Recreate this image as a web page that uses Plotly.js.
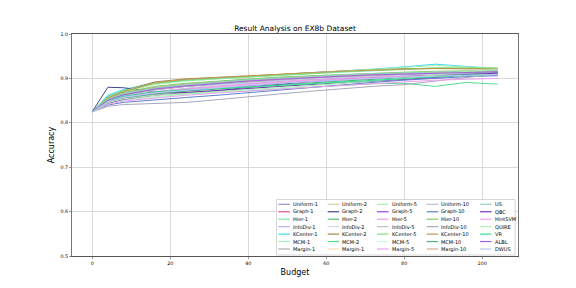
<!DOCTYPE html>
<html><head><meta charset="utf-8">
<script src="https://cdn.plot.ly/plotly-3.0.1.min.js"></script>
<style>html,body{margin:0;padding:0;background:#fff;}#chart{width:576px;height:288px;}</style>
</head><body><div id="chart"></div>
<script>
const budget = [0,4,8,16,24,32,40,48,56,64,72,80,88,96,104];
const seriesNames = ["Uniform-1","Graph-1","Hier-1","InfoDiv-1","KCenter-1","MCM-1","Margin-1",
  "Uniform-2","Graph-2","Hier-2","InfoDiv-2","KCenter-2","MCM-2","Margin-1",
  "Uniform-5","Graph-5","Hier-5","InfoDiv-5","KCenter-5","MCM-5","Margin-5",
  "Uniform-10","Graph-10","Hier-10","InfoDiv-10","KCenter-10","MCM-10","Margin-10",
  "US","QBC","HintSVM","QUIRE","VR","ALBL","DWUS"];
const seriesColors = ["#9b8fc8","#f0507a","#7ee8a8","#c0a8f0","#40d8f0","#a0f0c0","#a8b0a8",
  "#d8d0a0","#404890","#60c080","#c8d8e8","#a08850","#50e090","#f8e0b0",
  "#a8f0b0","#a040f0","#f0a0e0","#b0c8b8","#80e080","#d0f8e0","#e8a0e8",
  "#c0b8d8","#6080d0","#80d060","#a8a8c0","#c09850","#50b080","#d0b090",
  "#90d0c8","#8030c0","#f0a0f0","#b0f0b0","#30e090","#a060e0","#b8c8f8"];
const uniform1  = [0.825,0.852,0.866,0.878,0.885,0.891,0.896,0.900,0.903,0.906,0.909,0.911,0.913,0.914,0.915];
const graph1    = [0.825,0.850,0.862,0.874,0.882,0.888,0.893,0.897,0.900,0.903,0.905,0.908,0.910,0.909,0.912];
const hier1     = [0.825,0.860,0.872,0.888,0.895,0.899,0.903,0.907,0.911,0.914,0.917,0.920,0.923,0.922,0.921];
const infoDiv1  = [0.825,0.845,0.855,0.868,0.876,0.882,0.888,0.893,0.897,0.900,0.903,0.906,0.909,0.911,0.913];
const kCenter1  = [0.825,0.862,0.875,0.890,0.896,0.900,0.905,0.909,0.913,0.917,0.921,0.926,0.932,0.927,0.922];
const mcm1      = [0.825,0.848,0.858,0.864,0.868,0.872,0.876,0.882,0.888,0.894,0.900,0.905,0.910,0.913,0.914];
const margin1   = [0.825,0.855,0.868,0.880,0.887,0.893,0.898,0.902,0.905,0.907,0.909,0.911,0.912,0.913,0.914];
const uniform2  = [0.825,0.853,0.865,0.877,0.885,0.892,0.897,0.901,0.905,0.908,0.910,0.912,0.914,0.916,0.917];
const graph2    = [0.825,0.880,0.879,0.870,0.868,0.872,0.880,0.887,0.893,0.898,0.902,0.905,0.908,0.910,0.912];
const hier2     = [0.825,0.855,0.866,0.876,0.882,0.887,0.891,0.895,0.899,0.903,0.907,0.910,0.912,0.913,0.914];
const infoDiv2  = [0.825,0.847,0.858,0.870,0.878,0.885,0.890,0.895,0.899,0.902,0.905,0.907,0.909,0.910,0.911];
const kCenter2  = [0.825,0.858,0.872,0.892,0.899,0.902,0.905,0.909,0.913,0.917,0.920,0.922,0.922,0.923,0.923];
const mcm2      = [0.825,0.843,0.850,0.858,0.864,0.868,0.872,0.876,0.880,0.884,0.888,0.889,0.882,0.891,0.887];
const margin1b  = [0.825,0.851,0.864,0.876,0.884,0.890,0.895,0.899,0.903,0.906,0.909,0.911,0.913,0.915,0.916];
const uniform5  = [0.825,0.857,0.870,0.886,0.894,0.899,0.903,0.908,0.912,0.916,0.920,0.924,0.929,0.926,0.922];
const graph5    = [0.825,0.846,0.856,0.866,0.872,0.878,0.884,0.889,0.893,0.897,0.900,0.903,0.906,0.908,0.910];
const hier5     = [0.825,0.848,0.858,0.868,0.875,0.881,0.886,0.891,0.895,0.898,0.901,0.903,0.905,0.906,0.907];
const infoDiv5  = [0.825,0.852,0.864,0.876,0.884,0.890,0.895,0.899,0.903,0.906,0.909,0.911,0.913,0.914,0.915];
const kCenter5  = [0.825,0.859,0.872,0.889,0.896,0.900,0.904,0.908,0.912,0.916,0.919,0.921,0.924,0.924,0.923];
const mcm5      = [0.825,0.842,0.850,0.858,0.863,0.868,0.873,0.878,0.883,0.888,0.893,0.898,0.903,0.906,0.908];
const margin5   = [0.825,0.850,0.860,0.870,0.877,0.883,0.888,0.893,0.897,0.900,0.903,0.905,0.907,0.909,0.910];
const uniform10 = [0.825,0.849,0.861,0.874,0.882,0.888,0.893,0.897,0.901,0.904,0.907,0.909,0.911,0.913,0.914];
const graph10   = [0.825,0.840,0.846,0.852,0.857,0.862,0.868,0.874,0.880,0.886,0.891,0.896,0.900,0.904,0.906];
const hier10    = [0.825,0.856,0.868,0.882,0.889,0.894,0.899,0.903,0.906,0.909,0.912,0.914,0.916,0.917,0.918];
const infoDiv10 = [0.825,0.837,0.841,0.844,0.846,0.852,0.859,0.865,0.871,0.877,0.882,0.886,0.894,0.903,0.910];
const kCenter10 = [0.825,0.856,0.870,0.890,0.898,0.902,0.905,0.909,0.913,0.916,0.919,0.921,0.922,0.922,0.921];
const mcm10     = [0.825,0.846,0.855,0.865,0.871,0.876,0.881,0.886,0.890,0.894,0.898,0.902,0.906,0.910,0.913];
const margin10  = [0.825,0.853,0.866,0.879,0.886,0.891,0.896,0.900,0.903,0.906,0.909,0.912,0.914,0.916,0.917];
const us        = [0.825,0.854,0.866,0.878,0.886,0.892,0.897,0.901,0.905,0.908,0.911,0.913,0.915,0.916,0.917];
const qbc       = [0.825,0.844,0.853,0.862,0.868,0.873,0.878,0.882,0.886,0.890,0.894,0.898,0.902,0.908,0.912];
const hintSVM   = [0.825,0.842,0.849,0.856,0.862,0.867,0.872,0.876,0.880,0.884,0.888,0.892,0.896,0.898,0.900];
const quire     = [0.825,0.845,0.854,0.862,0.866,0.870,0.874,0.879,0.884,0.889,0.894,0.900,0.908,0.916,0.920];
const vr        = [0.825,0.850,0.860,0.870,0.874,0.877,0.880,0.884,0.888,0.892,0.896,0.900,0.904,0.907,0.909];
const albl      = [0.825,0.851,0.863,0.876,0.883,0.889,0.894,0.898,0.902,0.905,0.908,0.910,0.912,0.914,0.915];
const dwus      = [0.825,0.847,0.857,0.867,0.873,0.879,0.884,0.889,0.893,0.897,0.900,0.903,0.905,0.907,0.909];
const seriesValues = [uniform1,graph1,hier1,infoDiv1,kCenter1,mcm1,margin1,
  uniform2,graph2,hier2,infoDiv2,kCenter2,mcm2,margin1b,
  uniform5,graph5,hier5,infoDiv5,kCenter5,mcm5,margin5,
  uniform10,graph10,hier10,infoDiv10,kCenter10,mcm10,margin10,
  us,qbc,hintSVM,quire,vr,albl,dwus];
const xTicks = [0,20,40,60,80,100];
const yTicks = [0.5,0.6,0.7,0.8,0.9,1.0];
const yTickText = ["0.5","0.6","0.7","0.8","0.9","1.0"];

const W = 576, H = 288, M = {l:72, r:58, t:34, b:32};
const PW = W - M.l - M.r, PH = H - M.t - M.b;
const px2x = p => (p - M.l) / PW;
const py2y = p => (H - M.b - p) / PH;
const FONT = "DejaVu Sans, sans-serif";

const traces = seriesValues.map((v, i) => ({
  x: budget, y: v, type: "scatter", mode: "lines", name: seriesNames[i],
  line: {color: seriesColors[i], width: 1}, showlegend: false, hoverinfo: "skip"
}));

// legend drawn by hand (5 columns x 7 rows)
const colLineX = [278.3, 327.7, 377.0, 426.7, 480.0];
const rowY0 = 204.3, rowStep = 7.45, nRows = 7;
const shapes = [{type:"rect", xref:"paper", yref:"paper",
  x0: px2x(276.5), x1: px2x(515), y0: py2y(255), y1: py2y(199.5),
  line:{color:"#cccccc", width:0.8}, fillcolor:"rgba(255,255,255,0.85)", layer:"above"}];
const annotations = [];
seriesNames.forEach((n, i) => {
  const c = Math.floor(i / nRows), r = i % nRows;
  const yy = py2y(rowY0 + r * rowStep);
  shapes.push({type:"line", xref:"paper", yref:"paper",
    x0: px2x(colLineX[c]), x1: px2x(colLineX[c] + 11.5), y0: yy, y1: yy,
    line:{color: seriesColors[i], width:1.2}, layer:"above"});
  annotations.push({xref:"paper", yref:"paper", x: px2x(colLineX[c] + 13.5), y: yy,
    xanchor:"left", yanchor:"middle", showarrow:false, text:n,
    font:{family:FONT, size:5, color:"#000"}, borderpad:0});
});

const layout = {
  width: W, height: H, margin: M, paper_bgcolor:"#fff", plot_bgcolor:"#fff",
  showlegend: false,
  title: {text:"Result Analysis on EX8b Dataset", font:{family:FONT, size:7.5, color:"#000"},
    x: (M.l + PW/2)/W, xanchor:"center", y: 1 - 28/H, yanchor:"middle"},
  xaxis: {range:[-5.2, 109.2], tickvals:xTicks, ticks:"outside", ticklen:2, tickwidth:0.6,
    tickcolor:"#555", tickfont:{family:FONT, size:4.8, color:"#000"},
    showgrid:true, gridcolor:"#cfcfcf", gridwidth:0.8, zeroline:false,
    showline:true, linecolor:"#555", linewidth:1, mirror:true,
    title:{text:"Budget", font:{family:FONT, size:8, color:"#000"}, standoff:4}},
  yaxis: {range:[0.5, 1.0], tickvals:yTicks, ticktext:yTickText, ticks:"outside", ticklen:2, tickwidth:0.6,
    tickcolor:"#555", tickfont:{family:FONT, size:4.8, color:"#000"},
    showgrid:true, gridcolor:"#cfcfcf", gridwidth:0.8, zeroline:false,
    showline:true, linecolor:"#777", linewidth:1, mirror:true,
    title:{text:"Accuracy", font:{family:FONT, size:8, color:"#000"}, standoff:4}},
  shapes: shapes, annotations: annotations
};
Plotly.newPlot("chart", traces, layout, {staticPlot:true, displayModeBar:false});
</script></body></html>
